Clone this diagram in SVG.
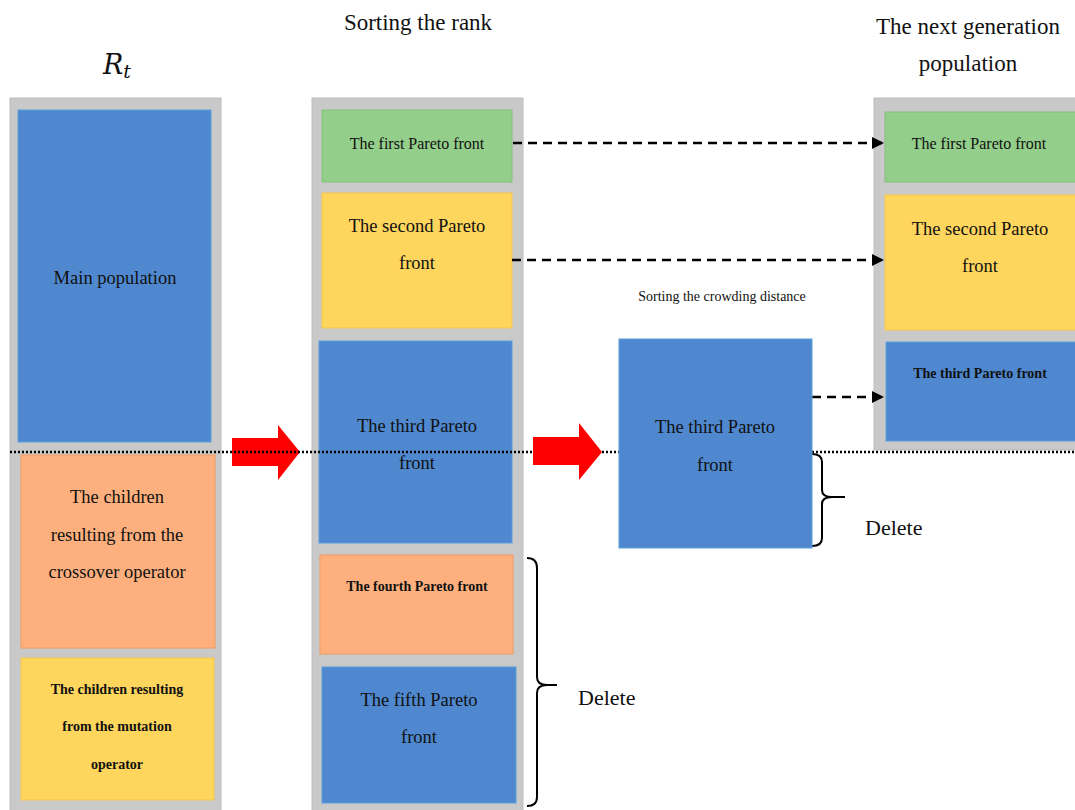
<svg xmlns="http://www.w3.org/2000/svg" width="1075" height="810" viewBox="0 0 1075 810">
<defs>
<style>
.col{fill:#c9c9c9;stroke:#bdbdbd;stroke-width:1}
.blue{fill:#4f88cf;stroke:#5aa0dc;stroke-width:1}
.green{fill:#93ce8a;stroke:#86c07d;stroke-width:1}
.yellow{fill:#fed55d;stroke:#f5c84a;stroke-width:1}
.orange{fill:#fdb07e;stroke:#f59a60;stroke-width:1}
text{font-family:"Liberation Serif","Times New Roman",serif;fill:#111;text-anchor:middle;dominant-baseline:central}
.t17{font-size:18.5px}
.t15{font-size:16px}
.b13{font-size:14px;font-weight:bold}
.hd{font-size:23px}
.del{font-size:22px;text-anchor:start}
.dash{stroke:#000;stroke-width:2.5;stroke-dasharray:9,6;fill:none}
.brace{stroke:#000;stroke-width:2;fill:none}
</style>
<marker id="ah" viewBox="0 0 10 10" refX="10" refY="5" markerWidth="5" markerHeight="5" markerUnits="strokeWidth" orient="auto">
<path d="M0,0 L10,5 L0,10 Z" fill="#000"/>
</marker>
</defs>

<text class="hd" x="418" y="22">Sorting the rank</text>
<text x="117" y="64" style="font-size:27px;font-style:italic;font-family:'DejaVu Serif','Liberation Serif',serif">R<tspan style="font-size:19px" dy="7">t</tspan></text>
<text class="hd" x="968" y="26">The next generation</text>
<text class="hd" x="968" y="63">population</text>
<text x="722" y="296" style="font-size:14px">Sorting the crowding distance</text>

<g id="col-rt">
<rect class="col" x="10" y="98" width="211" height="715"/>
<g id="main-pop"><rect class="blue" x="18" y="110" width="193" height="332"/><text class="t17" x="115" y="278">Main population</text></g>
<g id="crossover"><rect class="orange" x="21" y="455" width="194" height="193"/><text class="t17" x="117" y="497">The children</text><text class="t17" x="117" y="535">resulting from the</text><text class="t17" x="117" y="572">crossover operator</text></g>
<g id="mutation"><rect class="yellow" x="21" y="658" width="193" height="142"/><text class="b13" x="117" y="689">The children resulting</text><text class="b13" x="117" y="726">from the mutation</text><text class="b13" x="117" y="764">operator</text></g>
</g>

<g id="col-rank">
<rect class="col" x="312" y="98" width="211" height="715"/>
<g id="rank1"><rect class="green" x="322" y="110" width="190" height="72"/><text class="t15" x="417" y="143">The first Pareto front</text></g>
<g id="rank2"><rect class="yellow" x="322" y="193" width="190" height="135"/><text class="t17" x="417" y="226">The second Pareto</text><text class="t17" x="417" y="263">front</text></g>
<g id="rank3"><rect class="blue" x="319" y="341" width="193" height="202"/><text class="t17" x="417" y="426">The third Pareto</text><text class="t17" x="417" y="463">front</text></g>
<g id="rank4"><rect class="orange" x="320" y="555" width="193" height="99"/><text class="b13" x="417" y="586">The fourth Pareto front</text></g>
<g id="rank5"><rect class="blue" x="322" y="667" width="194" height="136"/><text class="t17" x="419" y="700">The fifth Pareto</text><text class="t17" x="419" y="737">front</text></g>
</g>

<g id="col-next">
<rect class="col" x="874" y="98" width="205" height="352"/>
<g id="next1"><rect class="green" x="885" y="112" width="195" height="70"/><text class="t15" x="979" y="143">The first Pareto front</text></g>
<g id="next2"><rect class="yellow" x="885" y="195" width="195" height="135"/><text class="t17" x="980" y="229">The second Pareto</text><text class="t17" x="980" y="266">front</text></g>
<g id="next3"><rect class="blue" x="886" y="342" width="194" height="99"/><text class="b13" x="980" y="373">The third Pareto front</text></g>
</g>

<g id="connectors">
<path id="arrow1" d="M232,438 H278 V425 L300,452 L278,480 V466 H232 Z" fill="#ff0000"/>
<line x1="10" y1="452" x2="619" y2="452" stroke="#000" stroke-width="2.5" stroke-dasharray="2,2"/>
<line x1="812" y1="452" x2="1075" y2="452" stroke="#000" stroke-width="2.5" stroke-dasharray="2,2"/>
<path id="arrow2" d="M533,437 H579 V423 L602,452 L579,480 V465 H533 Z" fill="#ff0000"/>
<line class="dash" x1="513" y1="143" x2="884" y2="143" marker-end="url(#ah)"/>
<line class="dash" x1="512" y1="260" x2="884" y2="260" marker-end="url(#ah)"/>
<line class="dash" x1="812" y1="397" x2="884" y2="397" marker-end="url(#ah)"/>
<path class="brace" d="M812,454 Q822,454 822,462 V490 Q822,497 832,497 H845 M832,497 Q822,497 822,504 V538 Q822,546 812,546"/>
<path class="brace" d="M527,558 Q537,558 537,568 V677 Q537,685 547,685 H557 M547,685 Q537,685 537,693 V797 Q537,806 527,806"/>
<text class="del" x="865" y="527">Delete</text>
<text class="del" x="578" y="697">Delete</text>
</g>

<g id="crowding-box">
<rect class="blue" x="619" y="339" width="193" height="209"/>
<text class="t17" x="715" y="427">The third Pareto</text>
<text class="t17" x="715" y="465">front</text>
</g>
</svg>
